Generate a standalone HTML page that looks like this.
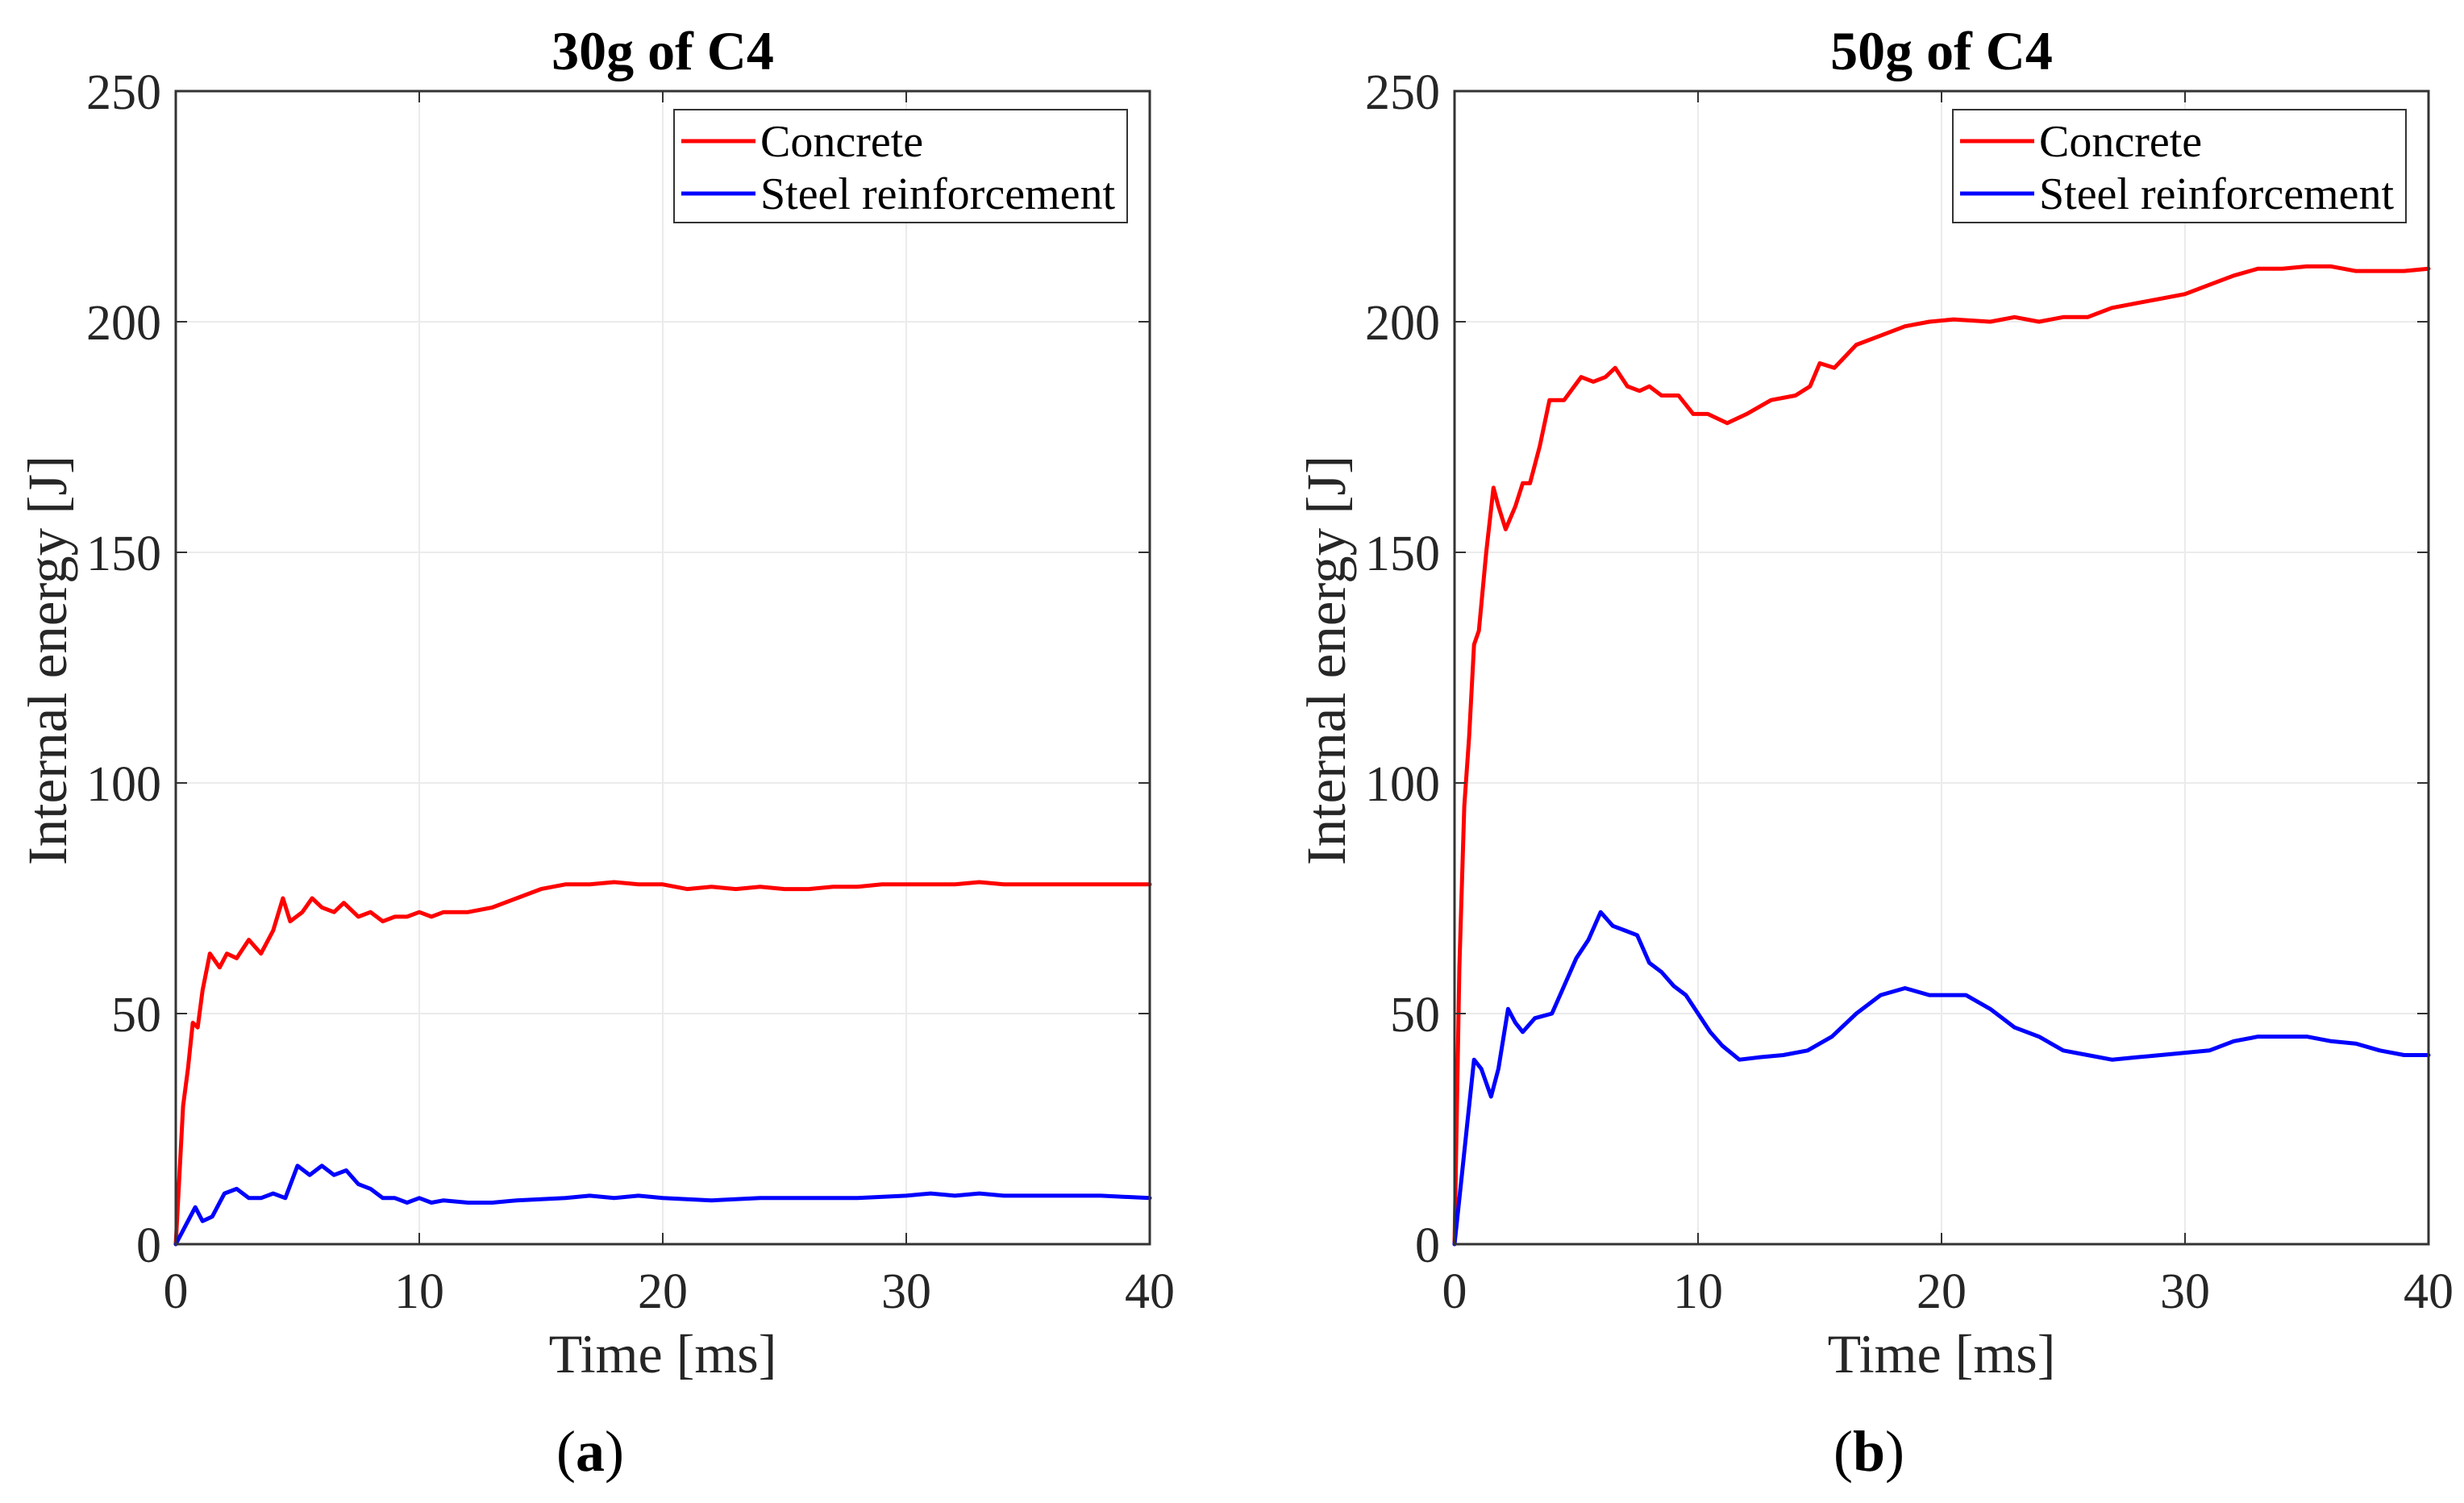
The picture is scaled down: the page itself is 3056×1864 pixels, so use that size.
<!DOCTYPE html>
<html><head><meta charset="utf-8"><style>
html,body{margin:0;padding:0;background:#fff}
svg{display:block;font-family:"Liberation Serif",serif}
</style></head><body>
<svg id="fig" width="3056" height="1864" viewBox="0 0 3056 1864" xmlns="http://www.w3.org/2000/svg"></svg>
<script>
const xTicks=[0,10,20,30,40];
const yTicks=[0,50,100,150,200,250];
const titles=["30g of C4","50g of C4"];
const panelLetters=["a","b"];
const seriesNames=["Concrete","Steel reinforcement"];
const aConcreteT=[0,0.3,0.5,0.7,0.9,1.1,1.4,1.8,2.1,2.5,3,3.5,4,4.4,4.7,5.2,5.6,6,6.5,6.9,7.5,8,8.5,9,9.5,10,10.5,11,12,13,14,15,16,17,18,19,20,21,22,23,24,25,26,27,28,29,30,31,32,33,34,36,38,40];
const aConcreteE=[0,30,38,48,47,55,63,60,63,62,66,63,68,75,70,72,75,73,72,74,71,72,70,71,71,72,71,72,72,73,75,77,78,78,78.5,78,78,77,77.5,77,77.5,77,77,77.5,77.5,78,78,78,78,78.5,78,78,78,78];
const aSteelT=[0,0.3,0.6,0.8,1.1,1.5,2,2.5,3,3.5,4,4.5,5,5.5,6,6.5,7,7.5,8,8.5,9,9.5,10,10.5,11,12,13,14,16,17,18,19,20,22,24,26,28,30,31,32,33,34,36,38,40];
const aSteelE=[0,3,6,8,5,6,11,12,10,10,11,10,17,15,17,15,16,13,12,10,10,9,10,9,9.5,9,9,9.5,10,10.5,10,10.5,10,9.5,10,10,10,10.5,11,10.5,11,10.5,10.5,10.5,10];
const bConcreteT=[0,0.2,0.4,0.6,0.8,1.0,1.3,1.6,1.8,2.1,2.5,2.8,3.1,3.5,3.9,4.5,5.2,5.7,6.2,6.6,7.1,7.6,8,8.5,9.2,9.8,10.4,11.2,12,13,14,14.6,15,15.6,16.5,17.5,18.5,19.5,20.5,22,23,24,25,26,27,28,29,30,31,32,33,34,35,36,37,38,39,40];
const bConcreteE=[0,60,95,110,130,133,150,164,160,155,160,165,165,173,183,183,188,187,188,190,186,185,186,184,184,180,180,178,180,183,184,186,191,190,195,197,199,200,200.5,200,201,200,201,201,203,204,205,206,208,210,211.5,211.5,212,212,211,211,211,211.5];
const bSteelT=[0,0.3,0.5,0.8,1.1,1.5,1.8,2.2,2.5,2.8,3.3,4,4.5,5,5.5,6,6.5,7,7.5,8,8.5,9,9.5,10,10.5,11,11.7,12.5,13.5,14.5,15.5,16.5,17.5,18.5,19.5,21,22,23,24,25,26,27,28,29,30,31,32,33,34,35,36,37,38,39,40];
const bSteelE=[0,15,25,40,38,32,38,51,48,46,49,50,56,62,66,72,69,68,67,61,59,56,54,50,46,43,40,40.5,41,42,45,50,54,55.5,54,54,51,47,45,42,41,40,40.5,41,41.5,42,44,45,45,45,44,43.5,42,41,41];

const NS="http://www.w3.org/2000/svg";
const svg=document.getElementById('fig');
function mk(tag,attrs,parent,text){const e=document.createElementNS(NS,tag);for(const k in attrs)e.setAttribute(k,attrs[k]);if(text!==undefined)e.textContent=text;(parent||svg).appendChild(e);return e;}
const X0=218,W=1208,Y0=1543,Y1=113;
const panels=[{off:0,data:[[aConcreteT,aConcreteE],[aSteelT,aSteelE]]},{off:1586,data:[[bConcreteT,bConcreteE],[bSteelT,bSteelE]]}];
const colors=["#ff0000","#0000ff"];
panels.forEach((p,pi)=>{
  const g=mk('g',{});
  
  
  const xs=t=>p.off+X0+t/40*W;
  const ys=v=>Y0-v/250*(Y0-Y1);
  const L=xs(0),R=xs(40);
  xTicks.forEach(t=>{const l=mk('line',{x1:xs(t),x2:xs(t),y1:Y1,y2:Y0,stroke:'#ebebeb','stroke-width':2},g);});
  yTicks.forEach(v=>{const l=mk('line',{x1:L,x2:R,y1:ys(v),y2:ys(v),stroke:'#ebebeb','stroke-width':2},g);});
  p.data.forEach((d,si)=>{
    const pts=d[0].map((t,i)=>xs(t).toFixed(1)+','+ys(d[1][i]).toFixed(1)).join(' ');
    const pl=mk('polyline',{points:pts,fill:'none',stroke:colors[si],'stroke-width':5,'stroke-linejoin':'round','stroke-linecap':'round'},g);
    
    
  });
  const box=mk('rect',{x:L,y:Y1,width:R-L,height:Y0-Y1,fill:'none',stroke:'#333','stroke-width':3},g);
  
  xTicks.forEach(t=>{
    mk('line',{x1:xs(t),x2:xs(t),y1:Y0,y2:Y0-14,stroke:'#333','stroke-width':2},g);
    mk('line',{x1:xs(t),x2:xs(t),y1:Y1,y2:Y1+14,stroke:'#333','stroke-width':2},g);
    const tx=mk('text',{x:xs(t),y:1622,'font-size':62,'text-anchor':'middle',fill:'#262626'},g,String(t));
    
  });
  yTicks.forEach(v=>{
    mk('line',{x1:L,x2:L+14,y1:ys(v),y2:ys(v),stroke:'#333','stroke-width':2},g);
    mk('line',{x1:R,x2:R-14,y1:ys(v),y2:ys(v),stroke:'#333','stroke-width':2},g);
    const tx=mk('text',{x:L-18,y:ys(v)+22,'font-size':62,'text-anchor':'end',fill:'#262626'},g,String(v));
    
  });
  const ti=mk('text',{x:(L+R)/2,y:86,'font-size':68,'font-weight':'bold','text-anchor':'middle',fill:'#000'},g,titles[pi]);
  
  const xl=mk('text',{x:(L+R)/2,y:1702,'font-size':68,'text-anchor':'middle',fill:'#262626'},g,'Time [ms]');
  
  const yl=mk('text',{x:0,y:0,'font-size':69,'text-anchor':'middle',fill:'#262626',transform:`translate(${p.off+82},819) rotate(-90)`},g,'Internal energy [J]');
  
  const pl=mk('text',{x:(L+R)/2-90,y:1824,'font-size':72,'text-anchor':'middle',fill:'#000'},g);
  
  mk('tspan',{},pl,'(');mk('tspan',{'font-weight':'bold'},pl,panelLetters[pi]);mk('tspan',{},pl,')');
  const lg=mk('g',{},g);
  
  mk('rect',{x:p.off+836,y:136,width:562,height:140,fill:'#fff',stroke:'#333','stroke-width':2},lg);
  seriesNames.forEach((n,si)=>{
    const yy=175+si*65;
    mk('line',{x1:p.off+845,x2:p.off+937,y1:yy,y2:yy,stroke:colors[si],'stroke-width':5},lg);
    const t=mk('text',{x:p.off+943,y:yy+19,'font-size':56,fill:'#000'},lg,n);
    
  });
});
</script>
</body></html>
